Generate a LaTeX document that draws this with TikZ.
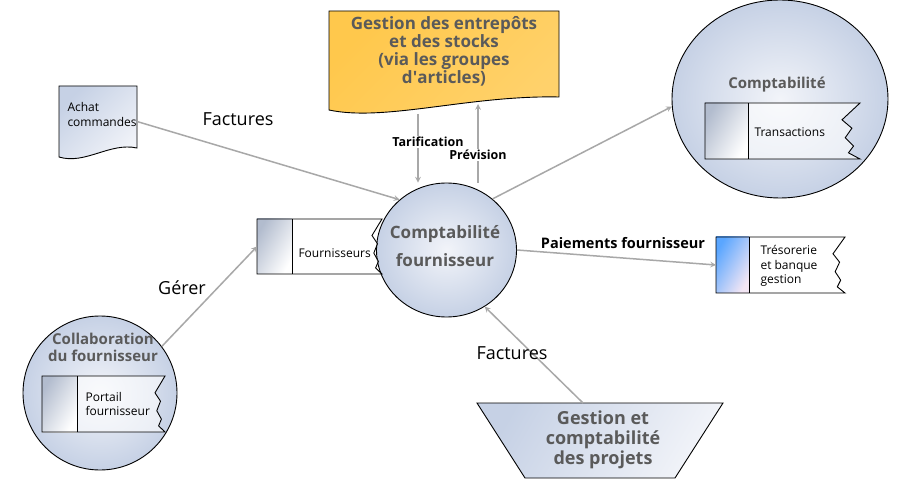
\documentclass[tikz,border=0pt]{standalone}
\usepackage{fontspec}
\setmainfont{Open Sans}
\usetikzlibrary{shapes.geometric,calc,positioning}

\definecolor{headgray}{HTML}{5A5A5A}
\definecolor{arrgray}{HTML}{A8A8A8}
\definecolor{bubbledark}{HTML}{C6D1E5}
\definecolor{bubblelight}{HTML}{F2F4F9}
\definecolor{orangedark}{HTML}{FFBE2C}
\definecolor{orangelight}{HTML}{FFF4DA}
\definecolor{tresoblue}{HTML}{5AA6FF}
\definecolor{tresopink}{HTML}{F3E6F4}

\tikzset{
  arr/.style={->, line width=1.5pt, draw=arrgray},
  bubble/.style={ellipse, draw, line width=0.9pt, inner sep=0pt, inner color=bubblelight, outer color=bubbledark},
  box/.style={inner sep=0pt, outer sep=0pt},
  heading/.style={font=\bfseries\fontsize{17}{18}\selectfont, text=headgray, align=center},
  small/.style={font=\fontsize{12}{15}\selectfont, align=left, anchor=west},
  flowlbl/.style={font=\fontsize{18}{20}\selectfont},
  boldlbl/.style={font=\bfseries\fontsize{12.5}{14}\selectfont, fill=white, inner sep=1pt},
}

% store with a shaded left part and a torn right edge
\newcommand{\storebox}[4]{%
  \fill[white, fill opacity=0.6] (#1.north west) -- (#1.north east)
    -- ($(#1.north east)!.30!(#1.south east)+(-#3,0)$)
    -- ($(#1.north east)!.45!(#1.south east)+(-.45*#3,0)$)
    -- ($(#1.north east)!.62!(#1.south east)+(-.82*#3,0)$)
    -- ($(#1.north east)!.77!(#1.south east)+(-.36*#3,0)$)
    -- ($(#1.north east)!.89!(#1.south east)+(-.64*#3,0)$)
    -- (#1.south east) -- (#1.south west) -- cycle;
  \shade[#4] (#1.north west) rectangle ($(#1.south west)+(#2,0)$);
  \draw[line width=0.9pt, line join=miter] (#1.north west) -- (#1.north east)
    -- ($(#1.north east)!.30!(#1.south east)+(-#3,0)$)
    -- ($(#1.north east)!.45!(#1.south east)+(-.45*#3,0)$)
    -- ($(#1.north east)!.62!(#1.south east)+(-.82*#3,0)$)
    -- ($(#1.north east)!.77!(#1.south east)+(-.36*#3,0)$)
    -- ($(#1.north east)!.89!(#1.south east)+(-.64*#3,0)$)
    -- (#1.south east) -- (#1.south west) -- cycle;
  \draw[line width=0.9pt] ($(#1.north west)+(#2,0)$) -- ($(#1.south west)+(#2,0)$);
}

\begin{document}
\begin{tikzpicture}[x=1pt, y=-1pt, >=stealth]
  \path[use as bounding box, fill=white] (0,0) rectangle (911,481);

  % centre
  \node[bubble, minimum width=140pt, minimum height=134pt] (acct) at (446.5,250) {};
  \node[heading, font=\bfseries\fontsize{17}{28}\selectfont] (acctT) at (445,246) {Comptabilité\\fournisseur};

  % warehouse document
  \node[box, minimum width=230pt, minimum height=86pt] (stock) at (444,54) {};
  \shadedraw[line width=0.9pt, left color=orangedark!85!white, middle color=orangelight, right color=orangedark!70!white, shading angle=45]
    (stock.north west) -- (stock.north east) -- (stock.south east)
    .. controls +(-89,-2) and +(56,12) .. ($(stock.south west)+(0,13)$) -- cycle;
  \node[heading] (stockT) at (444,51) {Gestion des entrepôts\\et des stocks\\(via les groupes\\d\textquotesingle articles)};

  \coordinate (tarA) at (418,114);
  \coordinate (prevB) at (478,104);
  \draw[arr] (tarA) -- (tarA |- acct.north);
  \draw[arr] (prevB |- acct.north) -- (prevB);
  \node[boldlbl] (tarL) at (428,142) {Tarification};
  \node[boldlbl] (prevL) at (478,155) {Prévision};

  % purchase orders
  \node[box, minimum width=78pt, minimum height=71pt] (achat) at (98,121.5) {};
  \shadedraw[line width=0.9pt, left color=bubbledark, right color=bubblelight, shading angle=45]
    (achat.north west) -- (achat.north east) -- ($(achat.south east)+(0,-9)$)
    .. controls +(-27,-6) and +(26,8) .. (achat.south west) -- cycle;
  \node[small] (achatT) at (64,115) {Achat\\commandes};

  \draw[arr] (achat.east) -- (acct.133);
  \node[flowlbl] (factL1) at (238,119) {Factures};

  % accounting
  \node[bubble, minimum width=216pt, minimum height=198pt] (compta) at (780,99) {};
  \node[heading, font=\bfseries\fontsize{15}{17}\selectfont] (comptaT) at (777,85) {Comptabilité};
  \node[box, minimum width=155pt, minimum height=56pt] (trans) at (782.5,131) {};
  \storebox{trans}{43}{18}{left color=bubbledark!90!black, right color=white, shading angle=60}
  \node[small] (transT) at (751,132) {Transactions};
  \draw[arr] (acct.48) -- (compta.184);

  % treasury
  \node[box, minimum width=129pt, minimum height=56pt] (treso) at (780.5,265) {};
  \storebox{treso}{33}{12}{left color=tresoblue, middle color=tresoblue!65!white, right color=tresopink, shading angle=60}
  \node[small, font=\fontsize{12}{14.5}\selectfont] (tresoT) at (757,266) {Trésorerie\\et banque\\gestion};
  \draw[arr] (acct.east) -- (treso.west);
  \node[font=\bfseries\fontsize{14.5}{16}\selectfont] (payL) at (623,243) {Paiements fournisseur};

  % vendors
  \node[box, minimum width=125pt, minimum height=55pt] (fourn) at (319.5,246.5) {};
  \storebox{fourn}{35}{10}{left color=bubbledark!90!black, right color=white, shading angle=60}
  \node[small] (fournT) at (295,253) {Fournisseurs};

  % vendor collaboration
  \node[bubble, minimum size=154pt] (collab) at (100,393) {};
  \node[heading, font=\bfseries\fontsize{15}{17}\selectfont] (collabT) at (103,347) {Collaboration\\du fournisseur};
  \node[box, minimum width=123pt, minimum height=56pt] (portail) at (103.5,404) {};
  \storebox{portail}{35}{10}{left color=bubbledark!90!black, right color=white, shading angle=60}
  \node[small, font=\fontsize{12}{14}\selectfont] (portailT) at (82,404) {Portail\\fournisseur};
  \draw[arr] (collab.37) -- (fourn.west);
  \node[flowlbl] (gererL) at (182,288) {Gérer};

  % projects
  \node[box, minimum width=246pt, minimum height=75pt] (projets) at (600,440.5) {};
  \shadedraw[line width=0.9pt, left color=bubbledark, right color=bubblelight, shading angle=60]
    (projets.north west) -- (projets.north east) -- ($(projets.south east)+(-48,0)$)
    -- ($(projets.south west)+(48,0)$) -- cycle;
  \node[heading, font=\bfseries\fontsize{18}{20}\selectfont] (projetsT) at (603,440) {Gestion et\\comptabilité\\des projets};
  \draw[arr] (projets.north -| 583,0) -- (acct.-56);
  \node[flowlbl] (factL2) at (512,353) {Factures};
\end{tikzpicture}
\end{document}
